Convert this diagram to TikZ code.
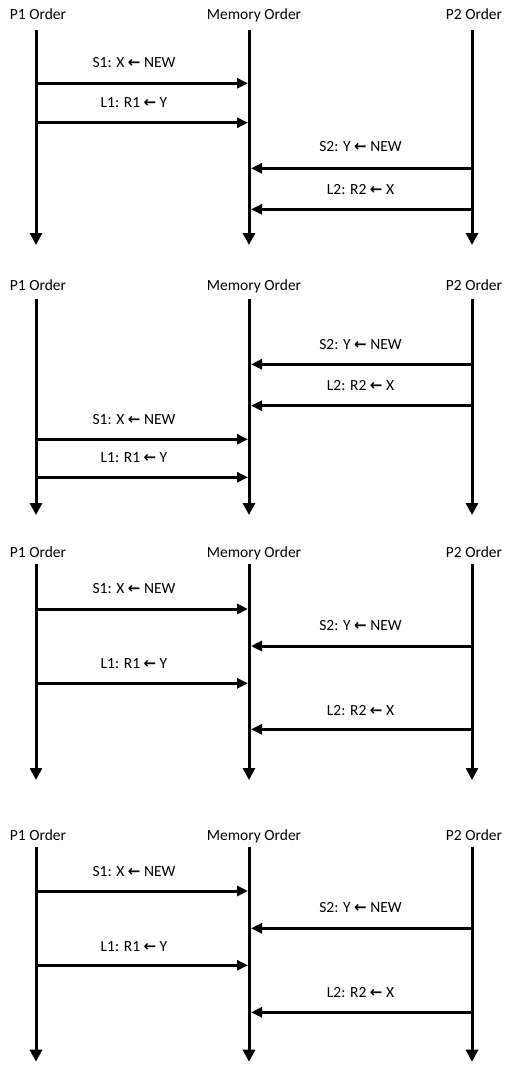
\documentclass[tikz,border=0pt]{standalone}
\usepackage{fontspec}
\setmainfont{Carlito}
\newfontfamily\arrowfont{DejaVu Sans Bold}
\usetikzlibrary{arrows.meta}
\newcommand{\larr}{{\arrowfont\fontsize{15}{17}\selectfont\char"2190}}
\begin{document}
\begin{tikzpicture}[x=1pt,y=-1pt,
  txt/.style={font=\fontsize{15.5}{18}\selectfont, inner sep=0pt, text height=10pt, text depth=0pt},
  life/.style={line width=3pt, -{Triangle[width=12pt,length=12pt]}},
  msg/.style={line width=3pt, -{Triangle[width=10pt,length=11pt]}}]
\useasboundingbox (0,0) rectangle (513,1065);

% ---------- Panel 1 ----------
\node[txt] (h1a) at (38,15) {P1 Order};
\node[txt] (h1m) at (254,15) {Memory Order};
\node[txt] (h1b) at (474,15) {P2 Order};
\coordinate (t1a) at (36,30);  \coordinate (b1a) at (36,245);
\coordinate (t1m) at (249,30); \coordinate (b1m) at (249,245);
\coordinate (t1b) at (472,30); \coordinate (b1b) at (472,245);
\draw[life] (t1a) -- (b1a);
\draw[life] (t1m) -- (b1m);
\draw[life] (t1b) -- (b1b);
\coordinate (p1s1a) at (36,83.3);  \coordinate (p1s1b) at (248,83.3);
\coordinate (p1l1a) at (36,122.7); \coordinate (p1l1b) at (248,122.7);
\coordinate (p1s2a) at (472,168.3); \coordinate (p1s2b) at (251,168.3);
\coordinate (p1l2a) at (472,209.3); \coordinate (p1l2b) at (251,209.3);
\draw[msg] (p1s1a) -- (p1s1b);
\draw[msg] (p1l1a) -- (p1l1b);
\draw[msg] (p1s2a) -- (p1s2b);
\draw[msg] (p1l2a) -- (p1l2b);
\node[txt] (p1s1t) at (134,62.7) {S1: X \larr{} NEW};
\node[txt] (p1l1t) at (134,102.7) {L1: R1 \larr{} Y};
\node[txt] (p1s2t) at (360.5,146.7) {S2: Y \larr{} NEW};
\node[txt] (p1l2t) at (360.5,189) {L2: R2 \larr{} X};

% ---------- Panel 2 ----------
\node[txt] (h2a) at (38,285) {P1 Order};
\node[txt] (h2m) at (254,285) {Memory Order};
\node[txt] (h2b) at (474,285) {P2 Order};
\coordinate (t2a) at (36,299.3);  \coordinate (b2a) at (36,515);
\coordinate (t2m) at (249,299.3); \coordinate (b2m) at (249,515);
\coordinate (t2b) at (472,299.3); \coordinate (b2b) at (472,515);
\draw[life] (t2a) -- (b2a);
\draw[life] (t2m) -- (b2m);
\draw[life] (t2b) -- (b2b);
\coordinate (p2s2a) at (472,364.3); \coordinate (p2s2b) at (251,364.3);
\coordinate (p2l2a) at (472,405.7); \coordinate (p2l2b) at (251,405.7);
\coordinate (p2s1a) at (36,439.3);  \coordinate (p2s1b) at (248,439.3);
\coordinate (p2l1a) at (36,477.3);  \coordinate (p2l1b) at (248,477.3);
\draw[msg] (p2s2a) -- (p2s2b);
\draw[msg] (p2l2a) -- (p2l2b);
\draw[msg] (p2s1a) -- (p2s1b);
\draw[msg] (p2l1a) -- (p2l1b);
\node[txt] (p2s2t) at (360.5,344) {S2: Y \larr{} NEW};
\node[txt] (p2l2t) at (360.5,385.7) {L2: R2 \larr{} X};
\node[txt] (p2s1t) at (134,419) {S1: X \larr{} NEW};
\node[txt] (p2l1t) at (134,457.3) {L1: R1 \larr{} Y};

% ---------- Panel 3 ----------
\node[txt] (h3a) at (38,552.3) {P1 Order};
\node[txt] (h3m) at (254,552.3) {Memory Order};
\node[txt] (h3b) at (474,552.3) {P2 Order};
\coordinate (t3a) at (36,564);  \coordinate (b3a) at (36,780);
\coordinate (t3m) at (249,564); \coordinate (b3m) at (249,780);
\coordinate (t3b) at (472,564); \coordinate (b3b) at (472,780);
\draw[life] (t3a) -- (b3a);
\draw[life] (t3m) -- (b3m);
\draw[life] (t3b) -- (b3b);
\coordinate (p3s1a) at (36,609);    \coordinate (p3s1b) at (248,609);
\coordinate (p3s2a) at (472,646);   \coordinate (p3s2b) at (251,646);
\coordinate (p3l1a) at (36,683.3);  \coordinate (p3l1b) at (248,683.3);
\coordinate (p3l2a) at (472,729.3); \coordinate (p3l2b) at (251,729.3);
\draw[msg] (p3s1a) -- (p3s1b);
\draw[msg] (p3s2a) -- (p3s2b);
\draw[msg] (p3l1a) -- (p3l1b);
\draw[msg] (p3l2a) -- (p3l2b);
\node[txt] (p3s1t) at (134,588.3) {S1: X \larr{} NEW};
\node[txt] (p3s2t) at (360.5,625) {S2: Y \larr{} NEW};
\node[txt] (p3l1t) at (134,663.3) {L1: R1 \larr{} Y};
\node[txt] (p3l2t) at (360.5,710) {L2: R2 \larr{} X};

% ---------- Panel 4 ----------
\node[txt] (h4a) at (38,835) {P1 Order};
\node[txt] (h4m) at (254,835) {Memory Order};
\node[txt] (h4b) at (474,835) {P2 Order};
\coordinate (t4a) at (36,846.7);  \coordinate (b4a) at (36,1061.7);
\coordinate (t4m) at (249,846.7); \coordinate (b4m) at (249,1061.7);
\coordinate (t4b) at (472,846.7); \coordinate (b4b) at (472,1061.7);
\draw[life] (t4a) -- (b4a);
\draw[life] (t4m) -- (b4m);
\draw[life] (t4b) -- (b4b);
\coordinate (p4s1a) at (36,891);     \coordinate (p4s1b) at (248,891);
\coordinate (p4s2a) at (472,928.3);  \coordinate (p4s2b) at (251,928.3);
\coordinate (p4l1a) at (36,965.3);   \coordinate (p4l1b) at (248,965.3);
\coordinate (p4l2a) at (472,1012.3); \coordinate (p4l2b) at (251,1012.3);
\draw[msg] (p4s1a) -- (p4s1b);
\draw[msg] (p4s2a) -- (p4s2b);
\draw[msg] (p4l1a) -- (p4l1b);
\draw[msg] (p4l2a) -- (p4l2b);
\node[txt] (p4s1t) at (134,871.7) {S1: X \larr{} NEW};
\node[txt] (p4s2t) at (360.5,907.7) {S2: Y \larr{} NEW};
\node[txt] (p4l1t) at (134,946) {L1: R1 \larr{} Y};
\node[txt] (p4l2t) at (360.5,992.3) {L2: R2 \larr{} X};
\end{tikzpicture}
\end{document}
